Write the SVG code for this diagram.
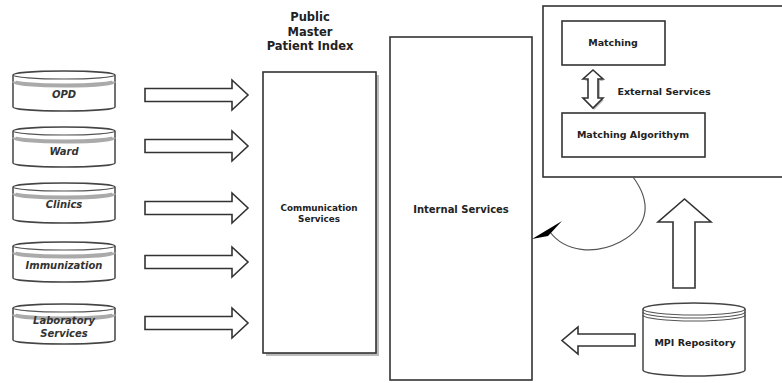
<svg xmlns="http://www.w3.org/2000/svg" width="782" height="383" viewBox="0 0 782 383">
<style>
.box{fill:#fff;stroke:#333;stroke-width:1.6}
.shadow{fill:#bbb;stroke:none}
.cyl{fill:#fff;stroke:#444;stroke-width:1.5}
.band{fill:none;stroke:#aaa;stroke-width:4}
.line{fill:none;stroke:#555;stroke-width:1.2}
.arr{fill:#fff;stroke:#333;stroke-width:1.6;stroke-linejoin:miter}
.t{font-family:"DejaVu Sans",Verdana,sans-serif;font-weight:bold;fill:#222;text-anchor:middle}
.ti{font-family:"DejaVu Sans",Verdana,sans-serif;font-weight:bold;font-style:italic;fill:#333;text-anchor:middle;font-size:10px}
</style>
<defs>
<g id="leftcyl">
<path class="cyl" d="M13,4 A51,4 0 0 1 115,4 L115,36 A51,4 0 0 1 13,36 Z"/>
<path class="band" d="M14,10.5 A50,4 0 0 0 114,10.5"/>
<path class="line" d="M13,4 A51,4 0 0 0 115,4"/>
</g>
<path id="rarrow" class="arr" d="M145,-6.5 L232,-6.5 L232,-15 L248,0 L232,15 L232,6.5 L145,6.5 Z"/>
</defs>
<rect width="782" height="383" fill="#fff"/>

<g id="title">
<text class="t" font-size="11.5" x="310" y="21">Public</text>
<text class="t" font-size="11.5" x="310" y="36">Master</text>
<text class="t" font-size="11.5" x="310" y="50">Patient Index</text>
</g>

<g id="opd"><use href="#leftcyl" y="71"/><text class="ti" x="64" y="98">OPD</text></g>
<g id="ward"><use href="#leftcyl" y="127"/><text class="ti" x="64" y="155">Ward</text></g>
<g id="clinics"><use href="#leftcyl" y="183"/><text class="ti" x="64" y="208">Clinics</text></g>
<g id="immunization"><use href="#leftcyl" y="242"/><text class="ti" x="64" y="269">Immunization</text></g>
<g id="laboratory"><use href="#leftcyl" y="304"/><text class="ti" x="64" y="324">Laboratory</text><text class="ti" x="64" y="337">Services</text></g>

<g id="communication">
<rect class="shadow" x="266" y="75" width="113" height="281"/>
<rect class="box" x="263" y="72" width="113" height="281"/>
<text class="t" font-size="8.8" x="319" y="211">Communication</text>
<text class="t" font-size="8.8" x="319" y="222">Services</text>
</g>

<g id="internal">
<rect class="box" x="390" y="37" width="142" height="343"/>
<text class="t" font-size="10" x="461" y="213">Internal Services</text>
</g>

<g id="external">
<rect class="box" x="543" y="6" width="250" height="171" stroke-width="2"/>
<text class="t" font-size="9.5" x="664" y="95">External Services</text>
</g>

<g id="matching">
<rect class="box" x="562" y="21" width="103" height="44"/>
<text class="t" font-size="9.5" x="613" y="46">Matching</text>
</g>

<g id="algorithm">
<rect class="box" x="562" y="113" width="143" height="44"/>
<text class="t" font-size="9.5" x="633" y="138">Matching Algorithym</text>
</g>

<g id="mpi">
<path class="cyl" d="M643,309 A51,6 0 0 1 745,309 L745,370 A51,6 0 0 1 643,370 Z"/>
<path class="line" d="M643,309 A51,6 0 0 0 745,309"/>
<path class="line" d="M643,312 A51,6 0 0 0 745,312"/>
<path class="line" d="M643,315 A51,6 0 0 0 745,315"/>
<text class="t" font-size="9.5" x="695" y="346">MPI Repository</text>
</g>

<g id="connectors">
<use href="#rarrow" y="95"/>
<use href="#rarrow" y="146"/>
<use href="#rarrow" y="208"/>
<use href="#rarrow" y="262"/>
<use href="#rarrow" y="323"/>
<path class="shadow" d="M594,72 L604,81 L600,81 L600,100 L604,100 L594,110 L585,100 L589,100 L589,81 L585,81 Z"/>
<path class="arr" d="M593,70 L603,79 L598,79 L598,98 L603,98 L593,108 L583,98 L588,98 L588,79 L583,79 Z"/>
<path class="arr" d="M673,288 L673,222 L658,222 L684.5,199 L711,222 L695,222 L695,288 Z"/>
<path class="arr" d="M635,334 L578,334 L578,327 L562,340.5 L578,354 L578,346 L635,346 Z"/>
<path fill="none" stroke="#555" stroke-width="1.2" d="M633,177 C650,200 652,225 620,242 C595,255 565,252 550,232"/>
<path fill="#000" d="M532,239 L562,221 L548,236 Z"/>
</g>
</svg>
